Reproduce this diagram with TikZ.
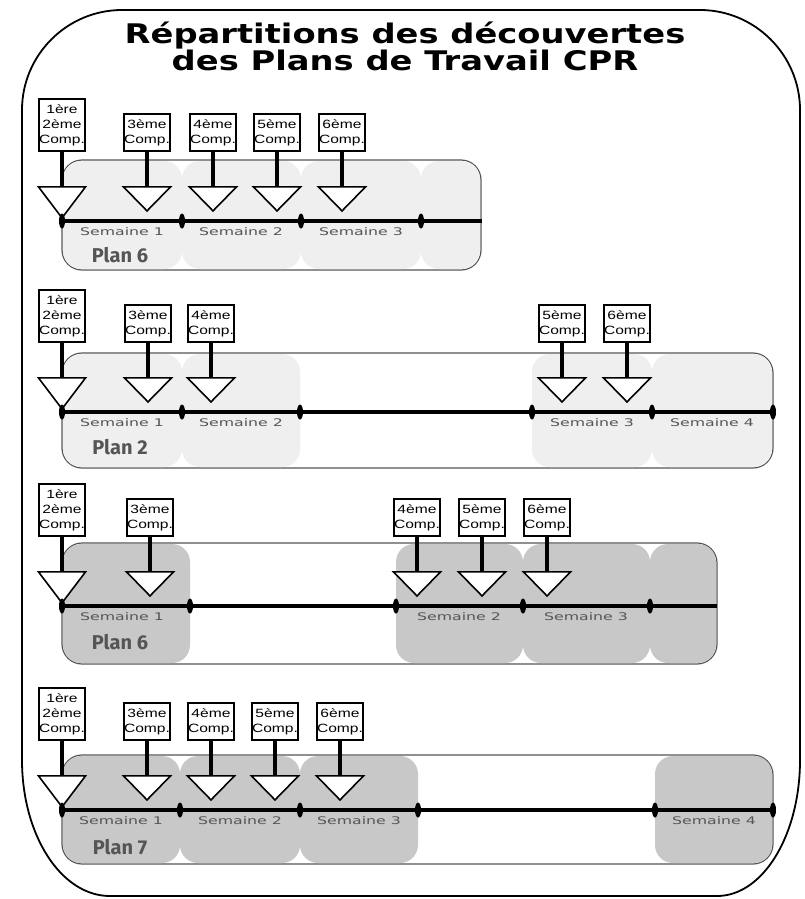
\documentclass[tikz,border=0pt]{standalone}
\usepackage{fontspec}
\setmainfont{Liberation Sans}
\newfontfamily\titlefont[FakeStretch=1.25]{DejaVu Sans}
\newfontfamily\wkfont[FakeStretch=1.5]{DejaVu Sans}
\newfontfamily\compfont[FakeStretch=1.3]{Liberation Sans}
\newfontfamily\planfont{Fira Sans}
\usetikzlibrary{shapes, positioning}
\definecolor{seglight}{HTML}{EFEFEF}
\definecolor{segdark}{HTML}{C8C8C8}
\definecolor{txtgray}{HTML}{555555}

\begin{document}
\begin{tikzpicture}[x=1pt,y=-1pt,
 comp/.style={draw,line width=1.6pt,fill=white,align=center,inner sep=0pt,minimum width=46pt,anchor=south,font=\compfont\fontsize{12}{15}\selectfont},
 comptwo/.style={comp,minimum height=37pt},
 compthree/.style={comp,minimum height=52pt},
 tri/.style={isosceles triangle,isosceles triangle stretches,rotate=-90,draw,line width=1.6pt,fill=white,inner sep=0pt,minimum height=24pt,minimum width=47pt,anchor=apex},
 tritall/.style={tri,minimum height=31pt},
 stem/.style={line width=4pt},
 tick/.style={ellipse,fill=black,inner sep=0pt,minimum width=6pt,minimum height=15pt},
 tline/.style={line width=4.5pt},
 panel/.style={draw=txtgray,line width=1.2pt,fill=white,rounded corners=20pt},
 wk/.style={text=txtgray,font=\wkfont\fontsize{10.5}{10.5}\selectfont},
 plan/.style={text=txtgray,font=\planfont\bfseries\fontsize{20}{20}\selectfont}]
 \useasboundingbox (0,0) rectangle (805,899);

 % cadre
 \draw[line width=1.8pt] (122,10) -- (700,10) .. controls (755,10) and (800,55) .. (800,110)
  -- (800,760) .. controls (800,835) and (763,896) .. (717,896)
  -- (110,896) .. controls (61,896) and (22,835) .. (22,760)
  -- (22,110) .. controls (22,55) and (67,10) .. (122,10) -- cycle;
 \node[font=\titlefont\bfseries\fontsize{27}{26}\selectfont,align=center] (title) at (405,46)
  {Répartitions des découvertes\\des Plans de Travail CPR};

 % Plan 6 (clair)
 \draw[panel] (62,160) rectangle (481,270);
 \fill[seglight,rounded corners=18pt] (63,161) rectangle (182,269);
 \fill[seglight,rounded corners=18pt] (182,161) rectangle (301,269);
 \fill[seglight,rounded corners=18pt] (301,161) rectangle (421,269);
 \fill[seglight,rounded corners=18pt] (421,161) rectangle (480,269);
 \node[tritall] (t11) at (62,220) {};
 \node[compthree] (b11) at (62,152) {1ère\\2ème\\Comp.};
 \draw[stem] (b11.south) -- (t11.lower side);
 \node[tri] (t12) at (147,213) {};
 \node[comptwo] (b12) at (147,152) {3ème\\Comp.};
 \draw[stem] (b12.south) -- (t12.lower side);
 \node[tri] (t13) at (213,213) {};
 \node[comptwo] (b13) at (213,152) {4ème\\Comp.};
 \draw[stem] (b13.south) -- (t13.lower side);
 \node[tri] (t14) at (277,213) {};
 \node[comptwo] (b14) at (277,152) {5ème\\Comp.};
 \draw[stem] (b14.south) -- (t14.lower side);
 \node[tri] (t15) at (342,213) {};
 \node[comptwo] (b15) at (342,152) {6ème\\Comp.};
 \draw[stem] (b15.south) -- (t15.lower side);
 \node[tick] (k11) at (62,221) {};
 \node[tick] (k12) at (182,221) {};
 \node[tick] (k13) at (301,221) {};
 \node[tick] (k14) at (421,221) {};
 \coordinate (e1) at (482,221);
 \draw[tline] (k11.center) -- (e1);
 \node[wk] (w11) at (122,232) {Semaine 1};
 \node[wk] (w12) at (241,232) {Semaine 2};
 \node[wk] (w13) at (361,232) {Semaine 3};
 \node[plan] (p1) at (120,255) {Plan 6};

 % Plan 2
 \draw[panel] (62,353) rectangle (773,468);
 \fill[seglight,rounded corners=18pt] (63,354) rectangle (182,467);
 \fill[seglight,rounded corners=18pt] (182,354) rectangle (300,467);
 \fill[seglight,rounded corners=18pt] (532,354) rectangle (652,467);
 \fill[seglight,rounded corners=18pt] (652,354) rectangle (772,467);
 \node[tritall] (t21) at (62,411) {};
 \node[compthree] (b21) at (62,343) {1ère\\2ème\\Comp.};
 \draw[stem] (b21.south) -- (t21.lower side);
 \node[tri] (t22) at (148,404) {};
 \node[comptwo] (b22) at (148,343) {3ème\\Comp.};
 \draw[stem] (b22.south) -- (t22.lower side);
 \node[tri] (t23) at (211,404) {};
 \node[comptwo] (b23) at (211,343) {4ème\\Comp.};
 \draw[stem] (b23.south) -- (t23.lower side);
 \node[tri] (t24) at (562,404) {};
 \node[comptwo] (b24) at (562,343) {5ème\\Comp.};
 \draw[stem] (b24.south) -- (t24.lower side);
 \node[tri] (t25) at (627,404) {};
 \node[comptwo] (b25) at (627,343) {6ème\\Comp.};
 \draw[stem] (b25.south) -- (t25.lower side);
 \node[tick] (k21) at (62,412) {};
 \node[tick] (k22) at (182,412) {};
 \node[tick] (k23) at (300,412) {};
 \node[tick] (k24) at (532,412) {};
 \node[tick] (k25) at (652,412) {};
 \node[tick] (k26) at (773,412) {};
 \draw[tline] (k21.center) -- (k26.center);
 \node[wk] (w21) at (122,423) {Semaine 1};
 \node[wk] (w22) at (241,423) {Semaine 2};
 \node[wk] (w23) at (592,423) {Semaine 3};
 \node[wk] (w24) at (712,423) {Semaine 4};
 \node[plan] (p2) at (120,447) {Plan 2};

 % Plan 6 (fonce)
 \draw[panel] (62,543) rectangle (717,664);
 \fill[segdark,rounded corners=18pt] (63,544) rectangle (190,663);
 \fill[segdark,rounded corners=18pt] (396,544) rectangle (523,663);
 \fill[segdark,rounded corners=18pt] (523,544) rectangle (650,663);
 \fill[segdark,rounded corners=18pt] (650,544) rectangle (716,663);
 \node[tritall] (t31) at (62,605) {};
 \node[compthree] (b31) at (62,537) {1ère\\2ème\\Comp.};
 \draw[stem] (b31.south) -- (t31.lower side);
 \node[tri] (t32) at (150,598) {};
 \node[comptwo] (b32) at (150,537) {3ème\\Comp.};
 \draw[stem] (b32.south) -- (t32.lower side);
 \node[tri] (t33) at (417,598) {};
 \node[comptwo] (b33) at (417,537) {4ème\\Comp.};
 \draw[stem] (b33.south) -- (t33.lower side);
 \node[tri] (t34) at (482,598) {};
 \node[comptwo] (b34) at (482,537) {5ème\\Comp.};
 \draw[stem] (b34.south) -- (t34.lower side);
 \node[tri] (t35) at (547,598) {};
 \node[comptwo] (b35) at (547,537) {6ème\\Comp.};
 \draw[stem] (b35.south) -- (t35.lower side);
 \node[tick] (k31) at (62,606) {};
 \node[tick] (k32) at (190,606) {};
 \node[tick] (k33) at (396,606) {};
 \node[tick] (k34) at (523,606) {};
 \node[tick] (k35) at (650,606) {};
 \coordinate (e3) at (717,606);
 \draw[tline] (k31.center) -- (e3);
 \node[wk] (w31) at (122,617) {Semaine 1};
 \node[wk] (w32) at (459,617) {Semaine 2};
 \node[wk] (w33) at (586,617) {Semaine 3};
 \node[plan] (p3) at (120,642) {Plan 6};

 % Plan 7
 \draw[panel] (62,755) rectangle (773,864);
 \fill[segdark,rounded corners=18pt] (63,756) rectangle (180,863);
 \fill[segdark,rounded corners=18pt] (180,756) rectangle (300,863);
 \fill[segdark,rounded corners=18pt] (300,756) rectangle (418,863);
 \fill[segdark,rounded corners=18pt] (655,756) rectangle (772,863);
 \node[tritall] (t41) at (62,809) {};
 \node[compthree] (b41) at (62,741) {1ère\\2ème\\Comp.};
 \draw[stem] (b41.south) -- (t41.lower side);
 \node[tri] (t42) at (147,802) {};
 \node[comptwo] (b42) at (147,741) {3ème\\Comp.};
 \draw[stem] (b42.south) -- (t42.lower side);
 \node[tri] (t43) at (211,802) {};
 \node[comptwo] (b43) at (211,741) {4ème\\Comp.};
 \draw[stem] (b43.south) -- (t43.lower side);
 \node[tri] (t44) at (275,802) {};
 \node[comptwo] (b44) at (275,741) {5ème\\Comp.};
 \draw[stem] (b44.south) -- (t44.lower side);
 \node[tri] (t45) at (340,802) {};
 \node[comptwo] (b45) at (340,741) {6ème\\Comp.};
 \draw[stem] (b45.south) -- (t45.lower side);
 \node[tick] (k41) at (62,810) {};
 \node[tick] (k42) at (180,810) {};
 \node[tick] (k43) at (300,810) {};
 \node[tick] (k44) at (418,810) {};
 \node[tick] (k45) at (655,810) {};
 \node[tick] (k46) at (773,810) {};
 \draw[tline] (k41.center) -- (k46.center);
 \node[wk] (w41) at (121,821) {Semaine 1};
 \node[wk] (w42) at (240,821) {Semaine 2};
 \node[wk] (w43) at (359,821) {Semaine 3};
 \node[wk] (w44) at (714,821) {Semaine 4};
 \node[plan] (p4) at (120,847) {Plan 7};
\end{tikzpicture}
\end{document}
